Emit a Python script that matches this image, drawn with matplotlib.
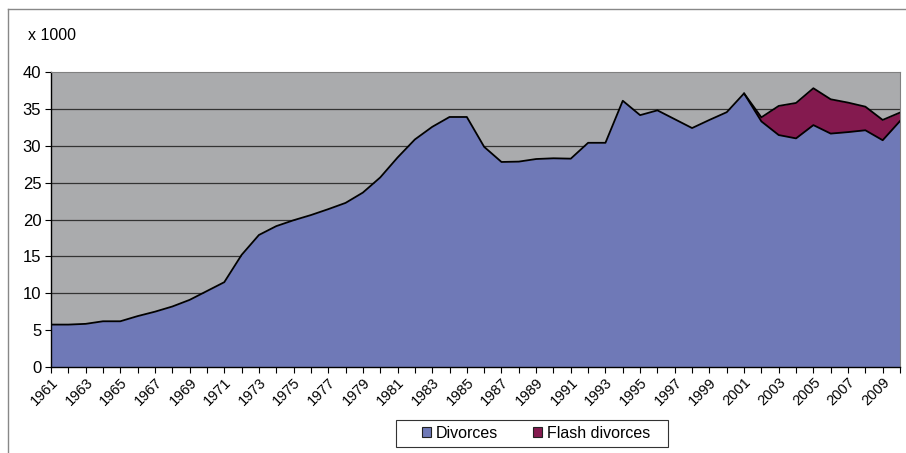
import matplotlib
matplotlib.use("Agg")
import matplotlib.pyplot as plt
from matplotlib.patches import Patch, Rectangle
from matplotlib.lines import Line2D
import numpy as np

years = list(range(1961, 2011))
divorces = [5.75, 5.75, 5.85, 6.2, 6.2, 6.9, 7.5, 8.2, 9.1, 10.3,
            11.5, 15.2, 17.9, 19.1, 19.9, 20.6, 21.4, 22.25, 23.65, 25.7,
            28.4, 30.85, 32.56, 33.9, 33.9, 29.85, 27.8, 27.85, 28.2, 28.3,
            28.25, 30.4, 30.4, 36.1, 34.15, 34.8, 33.6, 32.4, 33.5, 34.55,
            37.1, 33.3, 31.45, 31.0, 32.8, 31.65, 31.85, 32.1, 30.75, 33.35]
flash = [0]*40 + [0.0, 0.55, 3.95, 4.8, 5.0, 4.65, 4.0, 3.2, 2.75, 1.15]
series_labels = ["Divorces", "Flash divorces"]
tick_years = list(range(1961, 2011, 2))
y_ticks = [0, 5, 10, 15, 20, 25, 30, 35, 40]

plt.rcParams['font.family'] = ['Liberation Sans', 'DejaVu Sans']

fig = plt.figure(figsize=(9.06, 4.53), dpi=100)
ax = fig.add_axes([51/906, 1-367/453, (900-51)/906, (367-72)/453])

c_div = "#6f79b7"
c_flash = "#841a4f"
ax.set_facecolor("#aaabad")

x = np.array(years)
d = np.array(divorces)
f = np.array(flash)
top = d + f

ax.fill_between(x, 0, d, color=c_div, lw=0, zorder=2)
mask = x >= 2001
ax.fill_between(x[mask], d[mask], top[mask], color=c_flash, lw=0, zorder=2)
ax.plot(x, d, color="black", lw=1.3, zorder=3)
ax.plot(x[mask], top[mask], color="black", lw=1.3, zorder=3)

for v in y_ticks[1:-1]:
    ax.axhline(v, color="#333333", lw=0.9, zorder=1)

ax.set_xlim(1961, 2010)
ax.set_ylim(0, 40)
ax.set_yticks(y_ticks)
ax.set_xticks(years, minor=False)
ax.set_xticklabels([str(yy) if yy in tick_years else "" for yy in years],
                   rotation=45, ha="right", rotation_mode="anchor", fontsize=10.5)
ax.tick_params(axis="x", length=4, width=0.8, pad=2)
ax.tick_params(axis="y", length=4, width=0.8, labelsize=12, pad=3)

for s in ["left", "bottom"]:
    ax.spines[s].set_color("black")
    ax.spines[s].set_linewidth(1.0)
for s in ["top", "right"]:
    ax.spines[s].set_color("#808080")
    ax.spines[s].set_linewidth(0.8)

fig.text(28/906, 1-35/453, "x 1000", fontsize=11.5, va="center", ha="left")

# legend frame
fig.add_artist(Rectangle((396/906, 1-447/453), (668-396)/906, 27/453,
                         transform=fig.transFigure, facecolor="white",
                         edgecolor="#333333", lw=0.8))
handles = [Patch(facecolor=c_div, edgecolor="#222222", lw=0.8),
           Patch(facecolor=c_flash, edgecolor="#222222", lw=0.8)]
leg = fig.legend(handles, series_labels, loc="center",
                 bbox_to_anchor=(536/906, 1-433/453), ncol=2, frameon=False,
                 fontsize=11.5, handlelength=0.55, handleheight=0.55,
                 handletextpad=0.3, columnspacing=2.2, borderpad=0.2,
                 borderaxespad=0)

fig.add_artist(Line2D([8/906, 8/906], [0, 1-9/453], color="#888888", lw=1.0))
fig.add_artist(Line2D([8/906, 1], [1-9/453, 1-9/453], color="#888888", lw=1.0))

fig.savefig("out.png", dpi=100)
